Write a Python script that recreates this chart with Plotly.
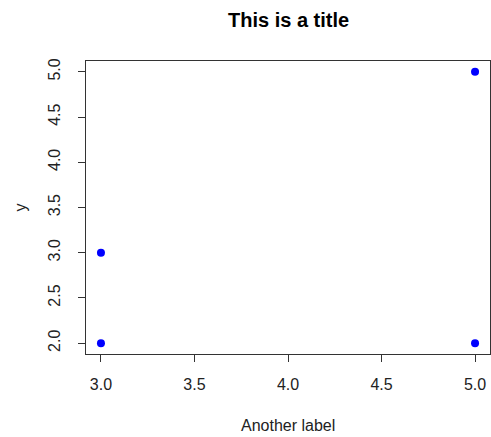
import plotly.graph_objects as go

x_vals = [3, 3, 5, 5]
y_vals = [2, 3, 2, 5]
x_ticks = [3.0, 3.5, 4.0, 4.5, 5.0]
y_ticks = [2.0, 2.5, 3.0, 3.5, 4.0, 4.5, 5.0]

W, H = 491, 437
L, R, T, B = 86, 1, 61, 83
FONT = "Liberation Sans, Arial, sans-serif"

fig = go.Figure(go.Scatter(
    x=x_vals, y=y_vals, mode="markers",
    marker=dict(color="#0000ff", size=8, line=dict(width=0)),
))

axis_common = dict(
    showgrid=False, zeroline=False, showline=True, mirror=True,
    linecolor="#333333", linewidth=1, ticks="outside", ticklen=7,
    tickcolor="#333333", tickfont=dict(family=FONT, size=16, color="#222222"),
)

fig.update_layout(
    width=W, height=H,
    margin=dict(l=L, r=R, t=T, b=B),
    paper_bgcolor="white", plot_bgcolor="white",
    showlegend=False,
    font=dict(family=FONT, color="#222222"),
    xaxis=dict(range=[2.92, 5.08], tickvals=x_ticks,
               ticktext=[f"{v:.1f}" for v in x_ticks], ticklabelstandoff=9, **axis_common),
    yaxis=dict(range=[1.88, 5.12], tickvals=y_ticks,
               ticktext=[f"{v:.1f}" for v in y_ticks], tickangle=-90, ticklabelstandoff=12, **axis_common),
    annotations=[
        dict(text="<b>This is a title</b>", xref="paper", yref="paper", x=0.5, y=1,
             yanchor="middle", yshift=41, showarrow=False,
             font=dict(size=20, color="#000000")),
        dict(text="Another label", xref="paper", yref="paper", x=0.5, y=0,
             yanchor="middle", yshift=-71, showarrow=False,
             font=dict(size=16, color="#222222")),
        dict(text="y", xref="paper", yref="paper", x=0, y=0.5, xanchor="center",
             xshift=-66, textangle=-90, showarrow=False,
             font=dict(size=16, color="#222222")),
    ],
)

fig.write_html("out.html", config={"displayModeBar": False},
               post_script="document.body.style.margin='0';")
